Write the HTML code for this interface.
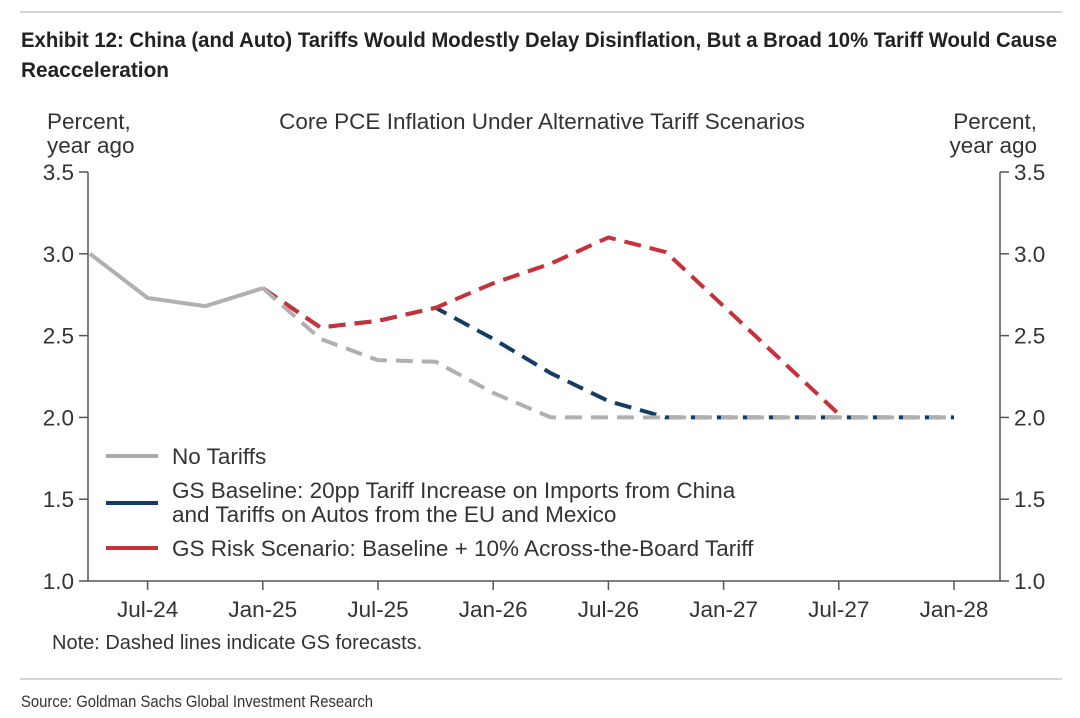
<!DOCTYPE html>
<html><head><meta charset="utf-8"><style>
html,body{margin:0;padding:0;background:#fff;}
svg{display:block;}
.t{font-family:"Liberation Sans",sans-serif;}
.a{font-family:"Liberation Sans",sans-serif;fill:#333;font-size:22.5px;}
</style></head><body>
<svg id="c" width="1080" height="718" xmlns="http://www.w3.org/2000/svg">
<line x1="20" y1="12" x2="1062" y2="12" stroke="#aaa" stroke-width="1"/>
<text class="t" x="21" y="47" font-size="21" font-weight="bold" fill="#222" textLength="1036" lengthAdjust="spacingAndGlyphs">Exhibit 12: China (and Auto) Tariffs Would Modestly Delay Disinflation, But a Broad 10% Tariff Would Cause</text>
<text class="t" x="21" y="77" font-size="21" font-weight="bold" fill="#222" textLength="148" lengthAdjust="spacingAndGlyphs">Reacceleration</text>
<text class="a" x="47" y="129">Percent,</text>
<text class="a" x="47" y="153">year ago</text>
<text class="a" x="1037" y="129" text-anchor="end">Percent,</text>
<text class="a" x="1037" y="153" text-anchor="end">year ago</text>
<text class="a" x="542" y="129" text-anchor="middle">Core PCE Inflation Under Alternative Tariff Scenarios</text>
<g id="axes"></g>
<g id="series"></g>
<g id="legend">
<line x1="106" y1="456" x2="158" y2="456" stroke="#aaa" stroke-width="4"/>
<text class="a" x="172" y="464">No Tariffs</text>
<line x1="106" y1="503" x2="158" y2="503" stroke="#143d66" stroke-width="4"/>
<text class="a" x="172" y="498">GS Baseline: 20pp Tariff Increase on Imports from China</text>
<text class="a" x="172" y="522">and Tariffs on Autos from the EU and Mexico</text>
<line x1="106" y1="548" x2="158" y2="548" stroke="#c8313a" stroke-width="4"/>
<text class="a" x="172" y="556">GS Risk Scenario: Baseline + 10% Across-the-Board Tariff</text>
</g>
<text class="a" x="52" y="649" style="font-size:20px">Note: Dashed lines indicate GS forecasts.</text>
<line x1="20" y1="679" x2="1062" y2="679" stroke="#aaa" stroke-width="1"/>
<text class="t" x="21" y="707" font-size="17" fill="#333" textLength="352" lengthAdjust="spacingAndGlyphs">Source: Goldman Sachs Global Investment Research</text>
</svg>
<script>
const yTicks=[1.0,1.5,2.0,2.5,3.0,3.5];
const xTickLabels=["Jul-24","Jan-25","Jul-25","Jan-26","Jul-26","Jan-27","Jul-27","Jan-28"];
const xTickIdx=[1,3,5,7,9,11,13,15];
// quarterly points starting Apr-24 (index 0)
const noTariffs=[3.0,2.73,2.68,2.79,2.48,2.35,2.34,2.15,2.0,2.0,2.0,2.0,2.0,2.0,2.0,2.0];
const baseline=[null,null,null,2.79,2.55,2.59,2.67,2.48,2.27,2.10,2.0,2.0,2.0,2.0,2.0,2.0];
const risk=[null,null,null,2.79,2.55,2.59,2.67,2.82,2.94,3.10,3.01,2.68,2.35,2.02];
const histEnd=3;
const NS="http://www.w3.org/2000/svg";
const X=i=>90+i*57.6, Y=v=>581-(v-1)*163.6;
function mk(t,a,p){const e=document.createElementNS(NS,t);for(const k in a)e.setAttribute(k,a[k]);p.appendChild(e);return e;}
const ax=document.getElementById('axes');
const L=88,R=1000;
let e=mk('line',{x1:L,y1:Y(3.5),x2:L,y2:Y(1),stroke:'#555','stroke-width':1.5},ax);


e=mk('line',{x1:R,y1:Y(3.5),x2:R,y2:Y(1),stroke:'#555','stroke-width':1.5},ax);


e=mk('line',{x1:L,y1:Y(1),x2:R,y2:Y(1),stroke:'#555','stroke-width':1.5},ax);


yTicks.forEach(v=>{
 mk('line',{x1:L-9,y1:Y(v),x2:L,y2:Y(v),stroke:'#555','stroke-width':1.5},ax);
 mk('line',{x1:R,y1:Y(v),x2:R+9,y2:Y(v),stroke:'#555','stroke-width':1.5},ax);
 let t=mk('text',{x:L-14,y:Y(v)+8,'text-anchor':'end',class:'a'},ax);t.textContent=v.toFixed(1);
 
 
 t=mk('text',{x:R+14,y:Y(v)+8,class:'a'},ax);t.textContent=v.toFixed(1);
 
 
});
xTickLabels.forEach((s,k)=>{
 const x=X(xTickIdx[k]);
 mk('line',{x1:x,y1:Y(1),x2:x,y2:Y(1)+9,stroke:'#555','stroke-width':1.5},ax);
 const t=mk('text',{x:x,y:Y(1)+36,'text-anchor':'middle',class:'a'},ax);t.textContent=s;
 
 
});
const sg=document.getElementById('series');
function path(arr,from,to){let d='';for(let i=from;i<=to&&i<arr.length;i++){if(arr[i]==null)continue;d+=(d?'L':'M')+X(i)+','+Y(arr[i]);}return d;}
function draw(arr,col,name){
 const last=arr.length-1;
 const p=mk('path',{d:path(arr,histEnd,last),fill:'none',stroke:col,'stroke-width':4,'stroke-dasharray':'17,9'},sg);
 
 
}
draw(baseline,'#143d66','baseline-line');
draw(risk,'#c8313a','risk-line');
draw(noTariffs,'#b0b0b0','no-tariffs-forecast-line');
const h=mk('path',{d:path(noTariffs,0,histEnd),fill:'none',stroke:'#b0b0b0','stroke-width':4},sg);


</script>
</body></html>
